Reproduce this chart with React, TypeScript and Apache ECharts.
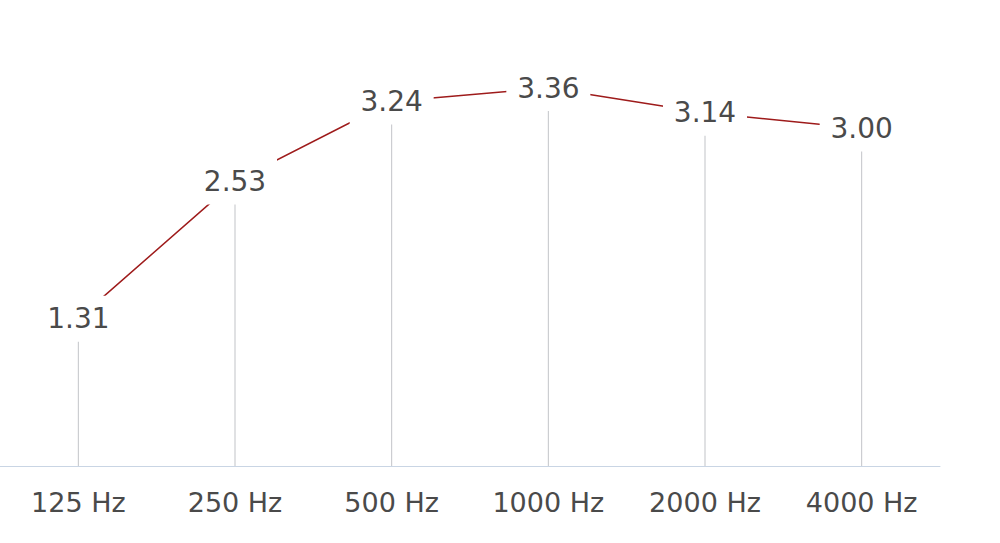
import React, { useEffect, useRef } from "react";
import * as echarts from "echarts";

const categories = ["125 Hz", "250 Hz", "500 Hz", "1000 Hz", "2000 Hz", "4000 Hz"];
const values = [1.31, 2.53, 3.24, 3.36, 3.14, 3.0];

export default function App() {
  const ref = useRef<HTMLDivElement>(null);
  useEffect(() => {
    const chart = echarts.init(ref.current!, undefined, { renderer: "svg" });
    const font = "'DejaVu Sans', Inter, sans-serif";
    chart.setOption({
      animation: false,
      backgroundColor: "#ffffff",
      grid: { left: 0, right: 60, top: 16, bottom: 77 },
      xAxis: {
        type: "category",
        data: categories,
        axisTick: { show: false },
        axisLine: { lineStyle: { color: "#c9d5e4", width: 1 } },
        axisLabel: { color: "#4a4a4a", fontSize: 27, fontFamily: font, margin: 23 },
        splitLine: { show: false },
      },
      yAxis: { type: "value", min: 0, max: 4, show: false, splitLine: { show: false } },
      series: [
        {
          type: "bar",
          data: values,
          barWidth: 1,
          itemStyle: { color: "#c2c4c8" },
          silent: true,
        },
        {
          type: "line",
          data: values,
          symbol: "rect",
          symbolSize: [84, 46],
          itemStyle: { color: "#ffffff", borderWidth: 0 },
          lineStyle: { color: "#9e1b1b", width: 1.5 },
          label: {
            show: true,
            position: "inside",
            formatter: (p: any) => Number(p.value).toFixed(2),
            color: "#4a4a4a",
            fontSize: 28,
            fontFamily: font,
          },
        },
      ],
    });
    return () => chart.dispose();
  }, []);
  return (
    <div
      ref={ref}
      style={{ position: "absolute", left: 0, top: 0, width: 1000, height: 543 }}
    />
  );
}
